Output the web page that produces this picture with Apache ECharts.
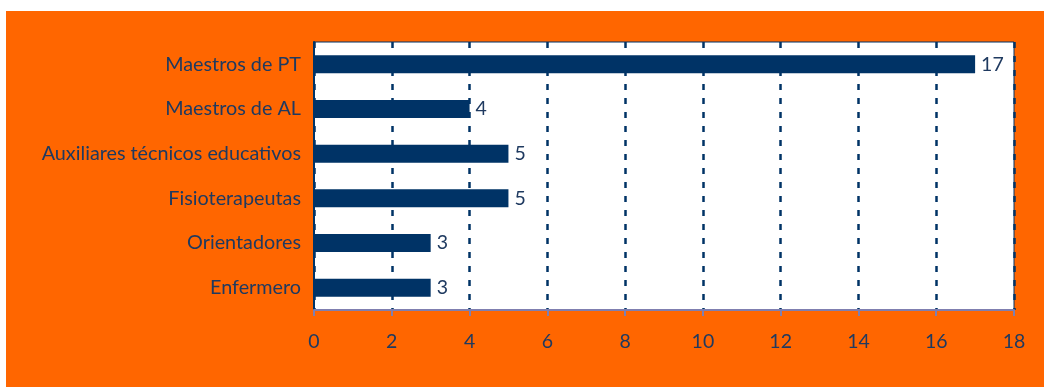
<!DOCTYPE html>
<html>
<head>
<meta charset="utf-8">
<script src="https://cdn.jsdelivr.net/npm/echarts@6/dist/echarts.min.js"></script>
<style>
  html, body { margin: 0; padding: 0; background: #fff; }
  #chart { position: absolute; left: 6px; top: 11px; width: 1038px; height: 376px; background: #ff6600; }
</style>
</head>
<body>
<div id="chart"></div>
<script>
// categories from top to bottom
var categories = ['Maestros de PT', 'Maestros de AL', 'Auxiliares técnicos educativos', 'Fisioterapeutas', 'Orientadores', 'Enfermero']
var values = [17, 4, 5, 5, 3, 3]
var xMin = 0
var xMax = 18
var xStep = 2

var navy = '#003366'
var chart = echarts.init(document.getElementById('chart'))
chart.setOption({
  animation: false,
  textStyle: { fontFamily: 'Lato' },
  grid: {
    left: 308,
    top: 31,
    right: 30,
    bottom: 77,
    show: true,
    backgroundColor: '#ffffff',
    borderColor: navy,
    borderWidth: 1
  },
  xAxis: {
    type: 'value',
    min: xMin,
    max: xMax,
    interval: xStep,
    axisLine: { show: true, lineStyle: { color: '#7f7fb0', width: 2 } },
    axisTick: { show: true, length: 6, lineStyle: { color: '#7f7fb0', width: 2 } },
    axisLabel: { color: '#1f3a60', fontSize: 19.5, margin: 22 },
    splitLine: { show: true, lineStyle: { color: navy, width: 2.5, type: [6, 8] } }
  },
  yAxis: {
    type: 'category',
    inverse: true,
    data: categories,
    axisLine: { show: true, lineStyle: { color: navy, width: 2 } },
    axisTick: { show: false },
    axisLabel: { color: '#1f3a60', fontSize: 19.8, margin: 13 }
  },
  series: [{
    type: 'bar',
    data: values,
    barWidth: 18,
    itemStyle: { color: navy },
    label: { show: true, position: 'right', color: '#1f3a60', fontSize: 19.5, distance: 6 }
  }]
})
</script>
</body>
</html>
